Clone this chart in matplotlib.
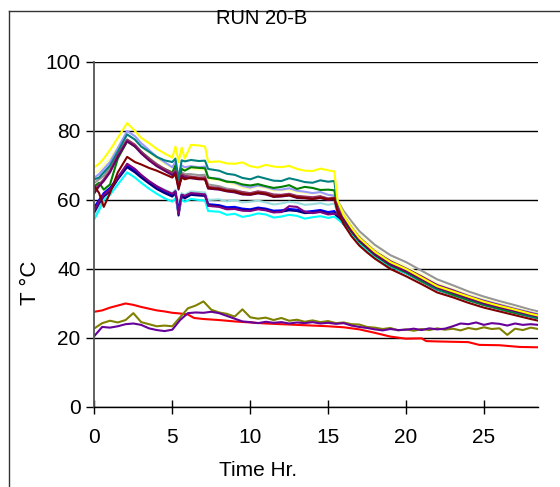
import matplotlib
matplotlib.use("Agg")
import matplotlib.pyplot as plt
from matplotlib.lines import Line2D

plt.rcParams['font.family'] = ['Liberation Sans', 'DejaVu Sans']

# time grid for the thermocouple channels (hours)
t_hot = [0, 0.3, 0.6, 1.0, 1.5, 2.1, 2.6, 3.0, 3.5, 4.0, 4.5, 5.0, 5.2, 5.4, 5.6, 5.8,
         6.2, 6.7, 7.1, 7.3, 8, 8.5, 9, 9.5, 10, 10.5, 11, 11.5, 12, 12.5, 13, 13.5, 14, 14.5,
         15, 15.4, 15.6, 16, 16.5, 17, 17.5, 18, 19, 20, 21, 22, 23, 24, 25, 26, 27, 28, 28.5]

yellow = [69.5, 70.5, 72, 74.5, 78, 82.3, 80, 78, 76.5, 74.8, 73.5, 72.3, 75.5, 71, 75.2, 72,
          76, 75.8, 75.5, 71, 71.2, 70.6, 70.5, 70.9, 69.8, 69.4, 70.2, 69.7, 69.5, 69.9, 69, 68.5,
          68.4, 69.1, 68.6, 68.3, 60, 55.5, 52, 49, 47, 45, 42, 40, 37.5, 35, 33.5, 32, 30.5, 29.3,
          28.2, 27, 26.5]
teal = [66, 66.5, 68, 70, 74, 79, 77.5, 75.5, 74, 72.5, 71.5, 71, 72, 66, 71.5, 71.2,
        71.6, 71.3, 71.4, 69, 68.5, 67.6, 67.3, 66.4, 66, 66.8, 66.2, 65.6, 65.5, 66.3, 65.8, 65.2,
        65, 65.7, 65.3, 65.5, 58.5, 54.7, 51.3, 48.5, 46.3, 44.3, 41.3, 39.2, 36.8, 34.3, 33, 31.3,
        29.8, 28.8, 27.6, 26.4, 26]
green = [64, 65, 63, 64.5, 72, 77, 75.5, 74, 72, 70, 69, 68, 70, 65, 69, 68.5,
         69.5, 69.3, 69.2, 66.5, 66, 65.3, 65.2, 64.5, 64.2, 64.6, 64, 63.5, 63.8, 64.3, 63.2, 63.8,
         63.5, 62.9, 63, 62.8, 57.5, 54, 50.8, 48, 46, 44, 41, 39, 36.5, 34.2, 32.6, 31, 29.6, 28.5,
         27.3, 26.3, 25.8]
periwinkle = [66.5, 67.5, 69, 71, 75, 80, 78.5, 76.5, 74.5, 72.5, 71, 69.5, 71, 66.5, 70, 69.5,
              69.8, 69.5, 69.7, 66.5, 66.2, 65.4, 65, 64.1, 63.6, 64.2, 63.8, 63.1, 63, 63.4, 62.7,
              62.4, 62, 62.3, 61.5, 61.3, 58.5, 55.5, 52.2, 49.3, 47.2, 45.2, 42.3, 40.2, 37.8, 35.4,
              33.9, 32.3, 30.9, 29.7, 28.5, 27.4, 26.9]
ivory = [68, 68.5, 70, 72, 75.5, 79, 77.5, 75.5, 73.8, 72, 70.5, 69.3, 70.5, 67, 69.5, 69,
         69, 68.8, 69, 66, 65.8, 65.1, 64.5, 63.6, 63.3, 63.9, 63.5, 62.7, 62.8, 62.9, 62.3, 62.1,
         61.8, 62.2, 61.4, 61.5, 59.5, 56, 52.8, 50, 47.8, 45.8, 42.8, 40.8, 38.3, 35.8, 34.3, 32.6,
         31.2, 30, 28.8, 27.6, 27.1]
gray = [65, 66, 67, 69.5, 73.5, 77.5, 76, 74, 72.2, 70.5, 69, 67.8, 69, 64.5, 68, 67.5,
        67.5, 67.2, 67.3, 64.5, 64, 63.3, 63, 62.3, 61.8, 62.4, 62, 61.2, 61.4, 61.7, 61, 60.8,
        60.6, 61, 60.5, 60.8, 59.8, 56.8, 53.8, 51, 49, 47, 44, 42, 39.5, 37, 35.3, 33.5, 32, 30.7,
        29.5, 28.2, 27.7]
maroon = [64, 62, 58, 62, 68, 72.5, 71, 70.3, 69.3, 68.5, 67.5, 66.5, 67.5, 63.5, 66.5, 66,
          66.5, 66.2, 66, 63.5, 63.2, 62.6, 62.5, 61.8, 61.6, 62.1, 61.8, 61, 61.2, 61.4, 60.8, 60.6,
          60.3, 60.7, 60.2, 60.5, 56.5, 53, 49.5, 46.8, 44.8, 43, 40, 37.9, 35.6, 33.2, 31.8, 30.2,
          28.8, 27.7, 26.6, 25.5, 25]
plum = [63, 64.5, 66, 68.5, 73, 77.5, 76, 74, 72, 70.3, 69, 67.8, 68.5, 64, 67.5, 67,
        66.8, 66.5, 66.6, 63.8, 63.5, 62.9, 62.7, 62.3, 62, 62.5, 62.2, 61.6, 61.5, 61.8, 61.2, 61,
        60.8, 61.1, 60.4, 60.6, 58, 55, 51.8, 49, 47, 45, 42, 40, 37.6, 35.1, 33.6, 32, 30.5, 29.3,
        28.1, 27, 26.5]
dark_purple = [62, 64, 65.5, 68, 72.5, 77, 75.5, 73.5, 71.5, 69.8, 68.5, 67.2, 68, 63, 67, 66.5,
               66.3, 66, 66, 63.3, 63, 62.5, 62.2, 61.6, 61.5, 61.9, 61.6, 60.9, 61, 61.3, 60.6,
               60.5, 60.3, 60.6, 60, 60.2, 57.3, 54.3, 51, 48.3, 46.2, 44.2, 41.3, 39.3, 37, 34.6,
               33.1, 31.5, 30, 28.9, 27.8, 26.7, 26.2]
pale_cyan = [55, 58, 61, 63, 66, 70, 68.5, 67, 65.5, 64, 63, 62, 63, 58.5, 62, 61.5,
             62.5, 62.3, 62.2, 60, 60.2, 59.6, 60, 59.3, 59.5, 59.8, 59.3, 58.7, 59, 59.5, 59.2,
             58.6, 58.8, 59.1, 58.6, 59, 56, 54, 50.8, 48.3, 46.3, 44.3, 41.5, 39.5, 37.2, 34.8,
             33.3, 31.7, 30.3, 29.1, 28, 26.8, 26.3]
blue = [58, 60, 62, 63.5, 66.5, 70, 68.5, 67, 65.3, 63.8, 62.5, 61.5, 62.5, 57, 61.5, 61,
        61.8, 61.6, 61.5, 58.8, 58.5, 57.9, 58, 57.5, 57.3, 57.8, 57.5, 56.9, 57, 57.4, 57.2, 56.6,
        56.8, 57.1, 56.5, 56.8, 55.5, 53.5, 50.5, 48, 46, 44, 41.2, 39.3, 37, 34.6, 33.1, 31.5,
        30.1, 29, 27.8, 26.7, 26.2]
navy = [56.5, 59, 61, 62.5, 66, 69.5, 68, 66.5, 64.8, 63.2, 62, 61, 62, 55.5, 61, 60.5,
        61.5, 61.3, 61.2, 58.5, 58.2, 57.4, 57.5, 57.1, 57, 57.5, 57.2, 56.5, 56.6, 57, 56.8, 56.2,
        56.3, 56.7, 56, 56.2, 55, 53, 50, 47.5, 45.5, 43.5, 40.7, 38.8, 36.4, 34, 32.5, 31, 29.6,
        28.4, 27.3, 26.2, 25.7]
purple = [57, 59.5, 61.5, 63, 66.5, 70.5, 69, 67.3, 65.5, 64, 62.8, 61.8, 62.5, 56, 61.5, 61.2,
          62, 61.8, 61.6, 58.3, 58, 57.3, 57.4, 56.9, 56.8, 57.3, 57, 56.4, 56.5, 58.2, 58, 56.6,
          56.2, 56.5, 55.8, 56, 55.8, 54.5, 51.5, 49, 47, 45, 42.2, 40.1, 37.8, 35.3, 33.8, 32.1,
          30.7, 29.5, 28.3, 27.2, 26.7]
cyan = [54.5, 57, 60, 61.5, 64.5, 68, 66.5, 65, 63.3, 61.8, 60.5, 59.5, 60.5, 56.5, 60, 59.5,
        60.3, 60, 59.8, 56.8, 56.6, 55.7, 56, 55.1, 55.5, 56.1, 55.8, 54.9, 55.2, 55.7, 55.4, 54.6,
        55, 55.3, 54.8, 55.2, 54.5, 53, 50, 47.5, 45.5, 43.5, 40.8, 38.8, 36.5, 34.1, 32.6, 31,
        29.7, 28.5, 27.4, 26.3, 25.8]

# ambient / cold channels
t_red = [0, 0.5, 1, 1.5, 2, 2.5, 3, 3.5, 4, 4.5, 5, 5.5, 6, 6.4, 7, 8, 9, 10, 11, 12, 13, 14,
         15, 16, 17, 18, 19, 20, 21, 21.3, 22, 23, 24, 24.7, 26, 27.3, 28.5]
red = [27.6, 28, 28.8, 29.4, 30, 29.6, 29, 28.5, 28, 27.7, 27.3, 27.1, 26.8, 25.8, 25.5, 25.2,
       24.8, 24.5, 24.2, 24, 23.8, 23.6, 23.4, 23.1, 22.5, 21.5, 20.4, 19.8, 19.9, 19.1, 19, 18.9,
       18.8, 18, 17.9, 17.4, 17.3]

t_low = [i * 0.5 for i in range(58)]
olive = [22.8, 24.3, 25.0, 24.5, 25.2, 27.2, 24.6, 24.0, 23.4, 23.6, 23.4, 26.0, 28.6, 29.4, 30.6,
         28.2, 27.4, 27.0, 26.2, 28.3, 26.0, 25.6, 25.9, 25.2, 25.8, 25.0, 25.3, 24.7, 25.1, 24.6,
         24.9, 24.3, 24.5, 24.0, 23.9, 23.2, 23.0, 22.6, 22.9, 22.2, 22.5, 22.1, 22.6, 22.3, 22.8,
         22.4, 22.7, 22.2, 22.9, 22.5, 23.1, 22.6, 22.8, 20.9, 22.7, 22.3, 23.0, 22.6]
violet = [20.6, 23.2, 23.0, 23.4, 24.0, 24.2, 23.8, 22.8, 22.3, 22.0, 22.4, 25.2, 27.2, 27.4, 27.3,
          27.6, 27.2, 26.4, 25.6, 24.8, 24.6, 24.3, 24.7, 24.4, 24.6, 24.2, 24.5, 24.3, 24.6, 24.2,
          24.4, 24.1, 24.3, 23.6, 23.2, 22.9, 22.5, 22.2, 22.6, 22.3, 22.4, 22.7, 22.3, 22.8, 22.5,
          22.7, 23.4, 24.2, 24.0, 24.5, 23.8, 24.3, 24.1, 23.6, 24.2, 23.8, 24.0, 23.8]

hot_series = [
    (gray, '#969696'), (ivory, '#FFFFA8'), (periwinkle, '#9999FF'), (pale_cyan, '#99DDDD'),
    (blue, '#0000FF'), (navy, '#000080'), (cyan, '#00FFFF'), (purple, '#800080'),
    (green, '#008000'), (teal, '#008080'), (plum, '#993366'), (dark_purple, '#660066'),
    (maroon, '#800000'), (yellow, '#FFFF00'),
]

fig = plt.figure(figsize=(5.6, 4.87), dpi=100)
ax = fig.add_axes([0.1686, 0.1643, 0.7929, 0.7084])

for vals, col in hot_series:
    ax.plot(t_hot, vals, color=col, linewidth=1.5)
ax.plot(t_red, red, color='#FF0000', linewidth=1.5)
ax.plot(t_low, olive, color='#808000', linewidth=1.5)
ax.plot(t_low, violet, color='#660099', linewidth=1.5)

ax.set_xlim(0, 28.5)
ax.set_ylim(0, 100)
ax.set_xticks([0, 5, 10, 15, 20, 25])
ax.set_yticks([0, 20, 40, 60, 80, 100])
ax.grid(True, axis='y', color='black', linewidth=1.0)
ax.set_axisbelow(True)
for s in ['top', 'right']:
    ax.spines[s].set_visible(False)
ax.spines['left'].set_color('#555555')
ax.spines['left'].set_linewidth(1.3)
ax.spines['bottom'].set_linewidth(1.0)
ax.tick_params(axis='x', direction='inout', length=10, width=1, labelsize=15, pad=10)
ax.tick_params(axis='y', direction='out', length=6, width=1, labelsize=15, pad=4)

fig.text(262 / 560, 1 - 19 / 487, 'RUN 20-B', ha='center', va='center', fontsize=14.5)
fig.text(30 / 560, 1 - 283 / 487, 'T °C', ha='center', va='center', rotation=90, fontsize=16)
fig.text(258 / 560, 1 - 471 / 487, 'Time Hr.', ha='center', va='center', fontsize=15)

# chart-area border (cropped at right and bottom)
fig.add_artist(Line2D([8.5 / 560, 8.5 / 560], [0, 1 - 11 / 487], color='#333333', linewidth=1.0))
fig.add_artist(Line2D([8.5 / 560, 1], [1 - 11 / 487, 1 - 11 / 487], color='#333333', linewidth=1.0))

fig.savefig('out.png', dpi=100)
